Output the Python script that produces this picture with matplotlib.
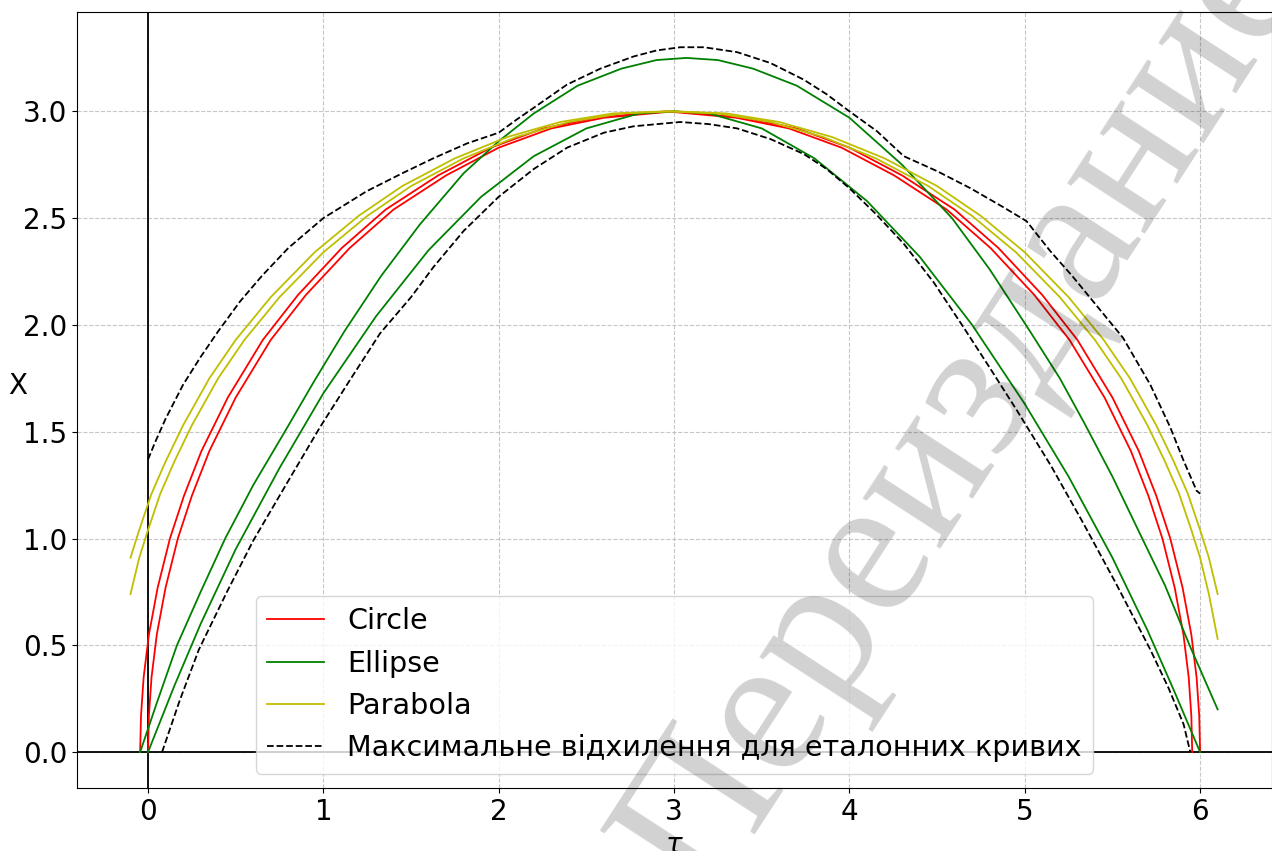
import matplotlib
matplotlib.use("Agg")
import matplotlib.pyplot as plt

# Circle: дві еталонні кола (зсув 0.045)
circle_x1 = [-0.045, -0.04, -0.025, 0.005, 0.055, 0.125, 0.205, 0.305, 0.455, 0.655, 0.855,
             1.105, 1.355, 1.655, 1.955, 2.255, 2.555, 2.955, 3.355, 3.655, 3.955, 4.255,
             4.555, 4.805, 5.055, 5.255, 5.455, 5.605, 5.705, 5.785, 5.855, 5.905, 5.935,
             5.95, 5.955]
circle_x2 = [0.0, 0.005, 0.02, 0.05, 0.1, 0.17, 0.25, 0.35, 0.5, 0.7, 0.9, 1.15, 1.4, 1.7,
             2.0, 2.3, 2.6, 3.0, 3.4, 3.7, 4.0, 4.3, 4.6, 4.85, 5.1, 5.3, 5.5, 5.65, 5.75,
             5.83, 5.9, 5.95, 5.98, 5.995, 6.0]
circle_y = [0.0, 0.17, 0.35, 0.55, 0.77, 1.0, 1.2, 1.41, 1.66, 1.93, 2.14, 2.36, 2.54, 2.70,
            2.83, 2.92, 2.97, 3.0, 2.97, 2.92, 2.83, 2.70, 2.54, 2.36, 2.14, 1.93, 1.66, 1.41,
            1.2, 1.0, 0.77, 0.55, 0.35, 0.17, 0.0]

# Ellipse
ellipse_x1 = [-0.045, 0.05, 0.165, 0.3, 0.44, 0.6, 0.78, 0.95, 1.12, 1.33, 1.55, 1.8, 2.0,
              2.2, 2.45, 2.7, 2.9, 3.07, 3.25, 3.45, 3.7, 4.0, 4.3, 4.585, 4.8, 5.03, 5.2,
              5.34, 5.5, 5.67, 5.8, 5.94, 6.1]
ellipse_y1 = [0.0, 0.23, 0.5, 0.75, 1.0, 1.25, 1.5, 1.74, 1.97, 2.23, 2.47, 2.71, 2.86, 2.99,
              3.12, 3.2, 3.24, 3.25, 3.24, 3.2, 3.12, 2.97, 2.75, 2.5, 2.26, 1.97, 1.75, 1.54,
              1.29, 1.0, 0.78, 0.5, 0.2]
ellipse_x2 = [0.0, 0.15, 0.3, 0.5, 0.75, 1.0, 1.3, 1.6, 1.9, 2.2, 2.5, 2.8, 3.0, 3.2, 3.5,
              3.8, 4.1, 4.4, 4.7, 5.0, 5.25, 5.5, 5.7, 5.85, 6.0]
ellipse_y2 = [0.0, 0.31, 0.6, 0.95, 1.33, 1.68, 2.04, 2.35, 2.6, 2.79, 2.92, 2.99, 3.0, 2.99,
              2.92, 2.78, 2.58, 2.32, 2.0, 1.63, 1.29, 0.91, 0.57, 0.29, 0.0]

# Parabola
parabola_x1 = [-0.1, -0.05, 0.02, 0.1, 0.2, 0.35, 0.5, 0.7, 0.95, 1.2, 1.45, 1.75, 2.05,
               2.35, 2.65, 2.95, 3.25, 3.55, 3.85, 4.15, 4.45, 4.7, 4.95, 5.2, 5.4, 5.55,
               5.7, 5.8, 5.88, 5.95, 6.0, 6.05, 6.1]
parabola_y1 = [0.91, 1.04, 1.21, 1.36, 1.53, 1.75, 1.93, 2.13, 2.34, 2.51, 2.65, 2.78, 2.88,
               2.95, 2.99, 3.0, 2.99, 2.95, 2.88, 2.78, 2.65, 2.51, 2.34, 2.13, 1.93, 1.75,
               1.53, 1.36, 1.21, 1.04, 0.91, 0.74, 0.53]
parabola_x2 = [-0.1, -0.05, 0.0, 0.07, 0.15, 0.25, 0.4, 0.55, 0.75, 1.0, 1.25, 1.5, 1.8,
               2.1, 2.4, 2.7, 3.0, 3.3, 3.6, 3.9, 4.2, 4.5, 4.75, 5.0, 5.25, 5.45, 5.6,
               5.75, 5.85, 5.93, 6.0, 6.05, 6.1]
parabola_y2 = [0.74, 0.91, 1.04, 1.21, 1.36, 1.53, 1.75, 1.93, 2.13, 2.34, 2.51, 2.65, 2.78,
               2.88, 2.95, 2.99, 3.0, 2.99, 2.95, 2.88, 2.78, 2.65, 2.51, 2.34, 2.13, 1.93,
               1.75, 1.53, 1.36, 1.21, 1.04, 0.91, 0.74]

# Максимальне відхилення (верхня та нижня межі)
upper_x = [0.0, 0.04, 0.1, 0.2, 0.3, 0.4, 0.525, 0.65, 0.8, 1.0, 1.247, 1.45, 1.627, 1.82,
           2.0, 2.1, 2.197, 2.389, 2.58, 2.77, 2.9, 3.035, 3.17, 3.36, 3.55, 3.74, 3.87,
           4.0, 4.157, 4.31, 4.5, 4.69, 4.88, 5.01, 5.145, 5.27, 5.39, 5.56, 5.716, 5.83,
           5.906, 5.98, 6.0]
upper_y = [1.37, 1.45, 1.56, 1.72, 1.85, 1.97, 2.11, 2.23, 2.36, 2.5, 2.626, 2.71, 2.78,
           2.85, 2.9, 2.96, 3.015, 3.125, 3.2, 3.257, 3.285, 3.30, 3.30, 3.277, 3.226,
           3.148, 3.08, 3.0, 2.907, 2.79, 2.72, 2.64, 2.55, 2.486, 2.346, 2.23, 2.11, 1.94,
           1.72, 1.52, 1.364, 1.224, 1.21]
lower_x = [0.08, 0.18, 0.29, 0.45, 0.6, 0.8, 0.98, 1.15, 1.323, 1.5, 1.627, 1.8, 2.0, 2.2,
           2.39, 2.6, 2.77, 3.035, 3.2, 3.36, 3.55, 3.74, 3.87, 4.0, 4.15, 4.31, 4.48, 4.65,
           4.8, 4.955, 5.15, 5.335, 5.52, 5.716, 5.82, 5.906, 5.944]
lower_y = [0.0, 0.24, 0.48, 0.75, 0.99, 1.27, 1.52, 1.74, 1.96, 2.13, 2.27, 2.44, 2.6, 2.73,
           2.83, 2.9, 2.93, 2.95, 2.94, 2.92, 2.87, 2.8, 2.73, 2.64, 2.52, 2.38, 2.2, 1.99,
           1.8, 1.6, 1.34, 1.07, 0.79, 0.48, 0.3, 0.13, 0.0]

x_ticks = [0, 1, 2, 3, 4, 5, 6]
y_ticks = [0.0, 0.5, 1.0, 1.5, 2.0, 2.5, 3.0]

fig = plt.figure(figsize=(12.72, 8.51), dpi=100)
ax = fig.add_axes([77 / 1272, 63 / 851, 1195 / 1272, 776 / 851])

ax.axhline(0, color="k", lw=1.3)
ax.axvline(0, color="k", lw=1.3)

lw = 1.3
ax.plot(circle_x1, circle_y, "r", lw=lw, label="Circle")
ax.plot(circle_x2, circle_y, "r", lw=lw)
ax.plot(ellipse_x1, ellipse_y1, "g", lw=lw, label="Ellipse")
ax.plot(ellipse_x2, ellipse_y2, "g", lw=lw)
ax.plot(parabola_x1, parabola_y1, "y", lw=lw, label="Parabola")
ax.plot(parabola_x2, parabola_y2, "y", lw=lw)
ax.plot(upper_x, upper_y, "k--", lw=lw, label="Максимальне відхилення для еталонних кривих")
ax.plot(lower_x, lower_y, "k--", lw=lw)

ax.set_xlim(-0.405, 6.41)
ax.set_ylim(-0.168, 3.465)
ax.set_xticks(x_ticks)
ax.set_yticks(y_ticks)
ax.tick_params(labelsize=20)
ax.grid(True, linestyle="--", color="#b0b0b0", alpha=0.7, lw=0.8)
ax.set_xlabel(r"$\tau$", fontsize=20)
ax.set_ylabel("X", fontsize=20, rotation=0)
ax.legend(loc="lower center", fontsize=20.6)

# водяний знак
fig.text(966 / 1272, 1 - 413 / 851, "Переиздание", family="Liberation Serif",
         fontsize=145, color="k", alpha=0.18, rotation=57,
         ha="center", va="center", rotation_mode="anchor", zorder=10)

fig.savefig("out.png", dpi=100)
